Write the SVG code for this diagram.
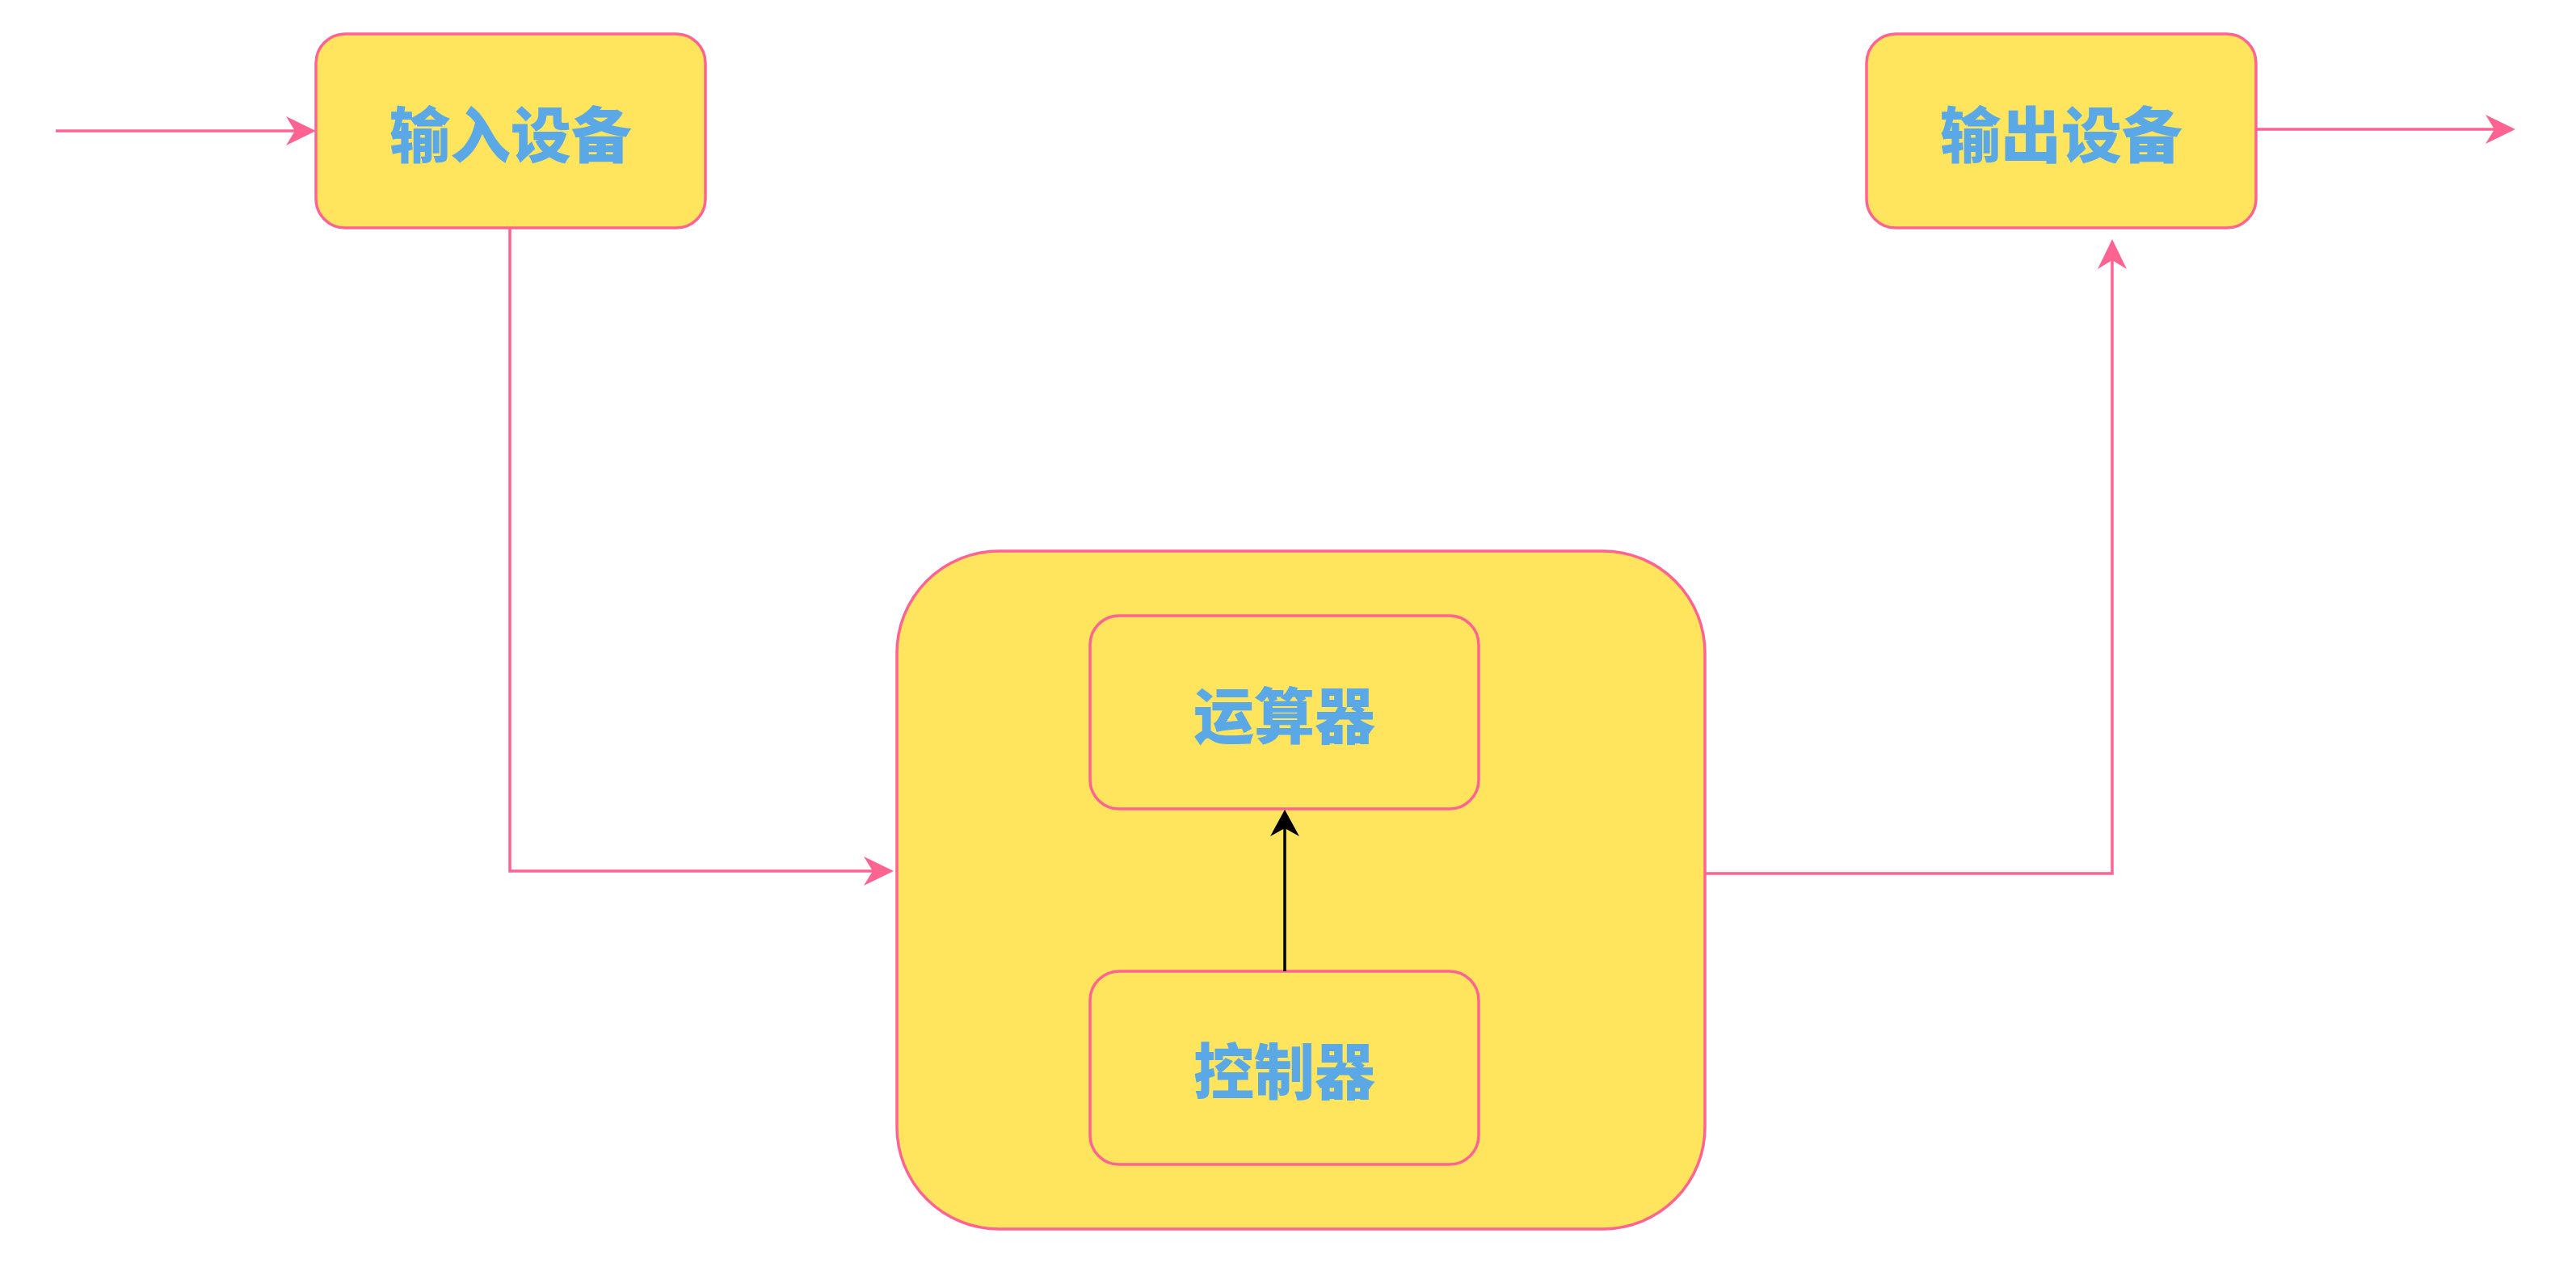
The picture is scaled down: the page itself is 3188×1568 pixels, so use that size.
<svg xmlns="http://www.w3.org/2000/svg" width="3188" height="1568" viewBox="0 0 3188 1568">
<style>
.box{fill:#FFE45E;stroke:#FF6392;stroke-width:3.5}
.lbl{fill:#5AA9E6;text-anchor:middle;dominant-baseline:central}
.pk{fill:none;stroke:#FF6392;stroke-width:3.5}
.bk{fill:none;stroke:#000000;stroke-width:3.5}
</style>
<defs>
<marker id="ap" markerUnits="userSpaceOnUse" viewBox="-40 -20 40 40" markerWidth="40" markerHeight="40" refX="-26" refY="0" orient="auto">
<path d="M0,0 L-37,-18 L-26,0 L-37,18 Z" fill="#FF6392"/>
</marker>
<marker id="ab" markerUnits="userSpaceOnUse" viewBox="-40 -20 40 40" markerWidth="40" markerHeight="40" refX="-23" refY="0" orient="auto">
<path d="M0,0 L-33,-18 L-23,0 L-33,18 Z" fill="#000000"/>
</marker>
</defs>
<rect width="3188" height="1568" fill="#FFFFFF"/>
<g id="cpu">
<rect class="box" x="1110" y="682" width="1000" height="839" rx="126" ry="126"/>
</g>
<g font-family="'Noto Sans CJK SC', 'Noto Sans CJK JP', sans-serif" font-weight="900" font-size="75">
<g id="input">
<rect class="box" x="391" y="42" width="482" height="240" rx="36" ry="36"/>
<text class="lbl" x="632" y="162">输入设备</text>
</g>
<g id="output">
<rect class="box" x="2310" y="42" width="482" height="240" rx="36" ry="36"/>
<text class="lbl" x="2551" y="162">输出设备</text>
</g>
<g id="alu">
<rect class="box" x="1349" y="762" width="481" height="239" rx="36" ry="36"/>
<text class="lbl" x="1589.5" y="881">运算器</text>
</g>
<g id="ctrl">
<rect class="box" x="1349" y="1202" width="481" height="239" rx="36" ry="36"/>
<text class="lbl" x="1589.5" y="1321">控制器</text>
</g>
</g>
<g id="connectors">
<path class="pk" d="M69,162 L365,162" marker-end="url(#ap)"/>
<path class="pk" d="M631,282 L631,1078 L1080,1078" marker-end="url(#ap)"/>
<path class="pk" d="M2110,1081 L2614,1081 L2614,322" marker-end="url(#ap)"/>
<path class="pk" d="M2792,160 L3087,160" marker-end="url(#ap)"/>
<path class="bk" d="M1590,1202 L1590,1025" marker-end="url(#ab)"/>
</g>
</svg>
